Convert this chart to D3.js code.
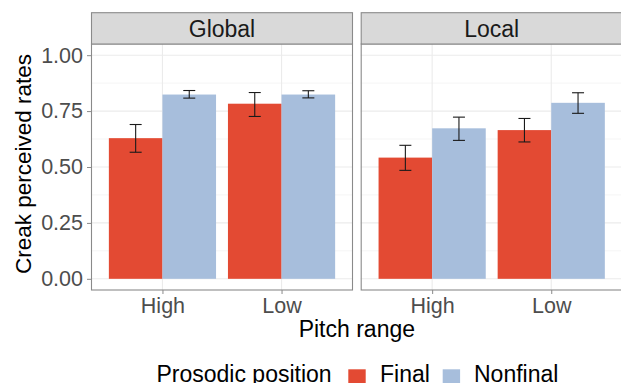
<!DOCTYPE html>
<html>
<head>
<meta charset="utf-8">
<script src="https://cdn.jsdelivr.net/npm/d3@7"></script>
<style>
  html, body { margin: 0; padding: 0; background: #fff; }
  svg { display: block; font-family: "Liberation Sans", Arial, Helvetica, sans-serif; }
</style>
</head>
<body>
<svg id="chart" width="621" height="383"></svg>
<script>
// ---- data ----
const facets = ["Global", "Local"];
const pitchRanges = ["High", "Low"];
const positions = ["Final", "Nonfinal"];
const yTicks = [0, 0.25, 0.5, 0.75, 1.0];
const yTickLabels = ["0.00", "0.25", "0.50", "0.75", "1.00"];
// values per facet, per pitch range, per position
const globalMeans = [[0.629, 0.824], [0.783, 0.824]];
const globalLow = [[0.566, 0.808], [0.726, 0.809]];
const globalHigh = [[0.690, 0.842], [0.833, 0.841]];
const localMeans = [[0.542, 0.673], [0.665, 0.787]];
const localLow = [[0.485, 0.619], [0.612, 0.740]];
const localHigh = [[0.597, 0.723], [0.717, 0.832]];
const colors = ["#E34A33", "#A7BEDC"];
const xTitle = "Pitch range";
const yTitle = "Creak perceived rates";
const legendTitle = "Prosodic position";

const facetData = [
  { name: facets[0], mean: globalMeans, lo: globalLow, hi: globalHigh },
  { name: facets[1], mean: localMeans, lo: localLow, hi: localHigh }
];

const svg = d3.select("#chart");
const panelTop = 44, panelBottom = 290;
const stripTop = 12.7;
const panelW = 262;
const panelLefts = [91, 360.7];

const y = d3.scaleLinear().domain([-0.05, 1.05]).range([panelBottom, panelTop]);
const color = d3.scaleOrdinal().domain(positions).range(colors);

facetData.forEach((f, fi) => {
  const x0 = panelLefts[fi];
  const g = svg.append("g");
  const xs = d3.scalePoint().domain(pitchRanges).range([x0 + panelW * 0.6 / 2.2, x0 + panelW * 1.6 / 2.2]);
  const unit = panelW / 2.2;
  const xPos = d3.scaleBand().domain(positions).range([-0.45 * unit, 0.45 * unit]).padding(0);

  g.append("rect").attr("x", x0).attr("y", panelTop).attr("width", panelW).attr("height", panelBottom - panelTop).attr("fill", "#fff");
  const minor = [0.125, 0.375, 0.625, 0.875];
  g.selectAll(".minor").data(minor).enter().append("line")
    .attr("x1", x0).attr("x2", x0 + panelW)
    .attr("y1", d => y(d)).attr("y2", d => y(d))
    .attr("stroke", "#f3f3f3").attr("stroke-width", 0.8);
  g.selectAll(".major").data(yTicks).enter().append("line")
    .attr("x1", x0).attr("x2", x0 + panelW)
    .attr("y1", d => y(d)).attr("y2", d => y(d))
    .attr("stroke", "#ebebeb").attr("stroke-width", 1.1);
  g.selectAll(".vmajor").data(pitchRanges).enter().append("line")
    .attr("x1", d => xs(d)).attr("x2", d => xs(d))
    .attr("y1", panelTop).attr("y2", panelBottom)
    .attr("stroke", "#ebebeb").attr("stroke-width", 1.1);

  pitchRanges.forEach((pr, pi) => {
    positions.forEach((pos, qi) => {
      const bx = xs(pr) + xPos(pos);
      g.append("rect")
        .attr("x", bx).attr("width", xPos.bandwidth())
        .attr("y", y(f.mean[pi][qi])).attr("height", y(0) - y(f.mean[pi][qi]))
        .attr("fill", color(pos));
    });
  });
  pitchRanges.forEach((pr, pi) => {
    positions.forEach((pos, qi) => {
      const cx = xs(pr) + xPos(pos) + xPos.bandwidth() / 2;
      const hw = 6;
      const eg = g.append("g").attr("stroke", "#1a1a1a").attr("stroke-width", 1.1).attr("fill", "none");
      eg.append("line").attr("x1", cx).attr("x2", cx).attr("y1", y(f.lo[pi][qi])).attr("y2", y(f.hi[pi][qi]));
      eg.append("line").attr("x1", cx - hw).attr("x2", cx + hw).attr("y1", y(f.lo[pi][qi])).attr("y2", y(f.lo[pi][qi]));
      eg.append("line").attr("x1", cx - hw).attr("x2", cx + hw).attr("y1", y(f.hi[pi][qi])).attr("y2", y(f.hi[pi][qi]));
    });
  });

  g.append("rect").attr("x", x0 + 0.5).attr("y", panelTop).attr("width", panelW - 1).attr("height", panelBottom - panelTop)
    .attr("fill", "none").attr("stroke", "#8a8a8a").attr("stroke-width", 1.1);
  g.append("rect").attr("x", x0 + 0.5).attr("y", stripTop).attr("width", panelW - 1).attr("height", panelTop - stripTop)
    .attr("fill", "#d9d9d9").attr("stroke", "#8a8a8a").attr("stroke-width", 1.1);
  g.append("text").attr("x", x0 + panelW / 2).attr("y", 36.5)
    .attr("text-anchor", "middle").attr("font-size", 23).attr("fill", "#1a1a1a").text(f.name);

  const xAxis = d3.axisBottom(xs).tickSize(4).tickPadding(4);
  const xa = g.append("g").attr("transform", `translate(0,${panelBottom})`).call(xAxis);
  xa.select(".domain").remove();
  xa.selectAll(".tick line").attr("stroke", "#8a8a8a");
  xa.selectAll(".tick text").attr("font-size", 21.5).attr("fill", "#4d4d4d").attr("dy", "0.71em")
    .attr("font-family", "Liberation Sans, Arial, sans-serif");

  if (fi === 0) {
    const yAxis = d3.axisLeft(y).tickValues(yTicks).tickFormat((d, i) => yTickLabels[i]).tickSize(4).tickPadding(4);
    const ya = g.append("g").attr("transform", `translate(${x0},0)`).call(yAxis);
    ya.select(".domain").remove();
    ya.selectAll(".tick line").attr("stroke", "#8a8a8a");
    ya.selectAll(".tick text").attr("font-size", 21.5).attr("fill", "#4d4d4d")
      .attr("font-family", "Liberation Sans, Arial, sans-serif");
  }
});

svg.append("text").attr("x", (panelLefts[0] + panelLefts[1] + panelW) / 2).attr("y", 337)
  .attr("text-anchor", "middle").attr("font-size", 23).attr("fill", "#000").text(xTitle);
svg.append("text").attr("transform", `translate(31,${(panelTop + panelBottom) / 2 - 3}) rotate(-90)`)
  .attr("text-anchor", "middle").attr("font-size", 22.5).attr("fill", "#000").text(yTitle);

const lg = svg.append("g");
lg.append("text").attr("x", 156.5).attr("y", 381.5).attr("font-size", 23).attr("fill", "#000").text(legendTitle);
const keyX = [348.3, 442.7];
const labX = [380, 474];
positions.forEach((p, i) => {
  lg.append("rect").attr("x", keyX[i]).attr("y", 369.3).attr("width", 17.4).attr("height", 17.4).attr("fill", color(p));
  lg.append("text").attr("x", labX[i]).attr("y", 381.5).attr("font-size", 23).attr("fill", "#000").text(p);
});
</script>
</body>
</html>
